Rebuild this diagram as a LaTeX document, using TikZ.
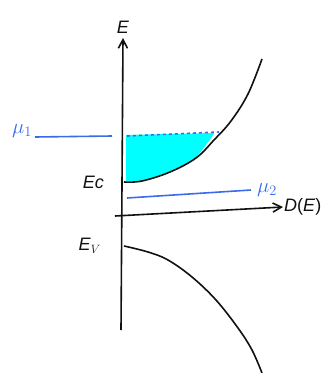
\documentclass[tikz,border=0pt]{standalone}
\usepackage{fontspec}
\setmainfont{Liberation Sans}
\usetikzlibrary{arrows.meta,positioning}
\definecolor{ink}{HTML}{111111}
\definecolor{mublue}{HTML}{3A6BEA}
\definecolor{fillc}{HTML}{00FFFF}
\tikzset{
  ax/.style={-{Straight Barb[length=3mm,width=3.2mm]}, line width=1.6pt, draw=ink},
  band/.style={line width=1.6pt, draw=ink},
  lvl/.style={line width=1.6pt, draw=mublue},
  lbl/.style={font=\fontsize{18}{20}\selectfont, text=ink, inner sep=1pt},
  mulbl/.style={font=\fontsize{22}{24}\selectfont, text=mublue, inner sep=1pt},
}
\begin{document}
\begin{tikzpicture}[x=1pt,y=-1pt]
    \useasboundingbox (0,0) rectangle (333,373);
    % filled states up to mu1
    \fill[fillc] (126,135) -- (214,133) -- (212,137) -- (196,158)
      .. controls (180,168) and (160,176) .. (140,181) -- (126,181) -- cycle;
    % axes
    \coordinate (ebot) at (121,330);
    \coordinate (etop) at (123,38);
    \coordinate (dl) at (115,216);
    \coordinate (dr) at (283,207);
    \draw[ax] (ebot) -- (etop);
    \draw[ax] (dl) -- (dr);
    \node[lbl, above=3pt of etop] (e) {\textit{E}};
    \node[lbl, right=0pt of dr] (de) {\textit{D}(\textit{E})};
    % bands
    \draw[band] plot[smooth, tension=0.6] coordinates {(124,182) (142,181) (170,172) (196,158) (214,140) (231,121) (248,94) (262,59)};
    \draw[band] plot[smooth, tension=0.6] coordinates {(124,246) (148,252) (168,260) (192,277) (216,300) (238,328) (252,350) (262,373)};
    \node[lbl, left=19pt of {(124,182)}] (ec) {\textit{Ec}};
    \node[lbl, left=22pt of {(124,246)}] (ev) {\textit{E}$_V$};
    % chemical potentials
    \coordinate (m1a) at (35,137);
    \coordinate (m1b) at (112,136);
    \coordinate (m1c) at (127,136);
    \coordinate (m1d) at (219,132);
    \coordinate (m2a) at (127,198);
    \coordinate (m2b) at (251,190);
    \draw[lvl] (m1a) -- (m1b);
    \draw[lvl, dashed] (m1c) -- (m1d);
    \draw[lvl] (m2a) -- (m2b);
    \node[mulbl, above left=-2pt and 2pt of m1a] (mu1) {$\mu_1$};
    \node[mulbl, above right=-8pt and 5pt of m2b] (mu2) {$\mu_2$};
\end{tikzpicture}
\end{document}
